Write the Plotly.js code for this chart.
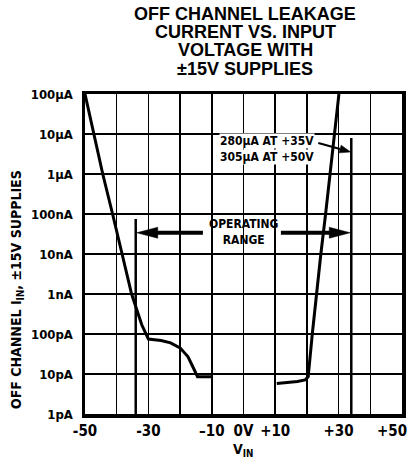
<!DOCTYPE html>
<html>
<head>
<meta charset="utf-8">
<script src="https://cdn.plot.ly/plotly-3.0.1.min.js"></script>
<style>html,body{margin:0;padding:0;background:#fff;}#chart{width:409px;height:464px;}</style>
</head>
<body>
<div id="chart"></div>
<script>
// ---- data ----
const titleLines = ["OFF CHANNEL LEAKAGE", "CURRENT VS. INPUT", "VOLTAGE WITH", "\u00B115V SUPPLIES"];

// negative-input branch (V, A)
const vLeft = [-50, -47.3, -44.4, -41.3, -38.3, -35.3, -32.1, -30.0, -26, -23, -20, -17.5, -15.5, -14.5, -10];
const iLeft = [1e-4, 1e-5, 1e-6, 1e-7, 1e-8, 1e-9, 1.7e-10, 7.5e-11, 6.9e-11, 6.0e-11, 4.5e-11, 2.7e-11, 1.26e-11, 8.5e-12, 8.5e-12];

// positive-input branch (V, A)
const vRight = [10.5, 14, 17, 19.4, 20.4, 21.7, 23.0, 24.4, 25.9, 27.3, 28.7, 30.1];
const iRight = [5.8e-12, 6.1e-12, 6.5e-12, 7.1e-12, 8.5e-12, 1e-10, 1e-9, 1e-8, 1e-7, 1e-6, 1e-5, 1e-4];

// operating range limits (V) and top of the bracket lines (A)
const rangeV = [-34, 34];
const rangeTop = [7.5e-8, 7.9e-6];
const floorI = 1e-12;
const rangeArrowI = 3.4e-8;          // level of the "operating range" arrows
const rangeArrowTailV = [-12.8, 11.8];

// pointer from the note to the +35V line
const noteArrowV = [23.6, 33.8];
const noteArrowI = [5.95e-6, 3.55e-6];

const xTickVals = [-50, -30, -10, 0, 10, 30, 50];
const xTickText = ["-50", "-30", "\u201310", "0V", "+10", "+30", "+50"];
const xGridStep = 10;
const yTickVals = [1e-12, 1e-11, 1e-10, 1e-9, 1e-8, 1e-7, 1e-6, 1e-5, 1e-4];
const yTickText = ["1pA", "10pA", "100pA", "1nA", "10nA", "100nA", "1\u00B5A", "10\u00B5A", "100\u00B5A"];

const noteLines = ["280\u00B5A AT +35V", "305\u00B5A AT +50V"];
const noteV = 7.3;
const noteI = [6.7e-6, 2.65e-6];
const rangeText = "OPERATING<br>RANGE";
const yTitle = "OFF CHANNEL I<sub>IN</sub>, \u00B115V SUPPLIES";
const xTitle = "V<sub>IN</sub>";

// ---- drawing ----
const narrow = "Liberation Sans Narrow, DejaVu Sans Condensed, Arial Narrow, sans-serif";
const wide = "Liberation Sans, Arial, Helvetica, sans-serif";
const lg = v => Math.log10(v);
const black = "#000";

// plot-area scale (pixels per volt and per decade) used to size the arrowheads
const pxPerV = 317 / 100, pxPerDec = 320 / 8;
// offset a (V, I) point by screen pixels (dx right, dy down)
const off = (v, i, dx, dy) => [v + dx / pxPerV, i * Math.pow(10, -dy / pxPerDec)];

function head(tipV, tipI, pts) {
  const all = [[0, 0]].concat(pts).concat([[0, 0]]).map(p => off(tipV, tipI, p[0], p[1]));
  return {x: all.map(p => p[0]), y: all.map(p => p[1]), mode: "lines", fill: "toself", fillcolor: black,
    line: {color: black, width: 0.5}, hoverinfo: "skip"};
}

const lHeadTip = [rangeV[0] + 1 / pxPerV, rangeArrowI];
const rHeadTip = [rangeV[1] - 1 / pxPerV, rangeArrowI];
const noteBase = off(noteArrowV[1], noteArrowI[1], -10.6, -2.98);

const traces = [
  {x: vLeft, y: iLeft, mode: "lines", line: {color: black, width: 3}, hoverinfo: "skip"},
  {x: vRight, y: iRight, mode: "lines", line: {color: black, width: 3}, hoverinfo: "skip"},
  {x: [rangeV[0], rangeV[0]], y: [rangeTop[0], floorI], mode: "lines", line: {color: black, width: 2.5}, hoverinfo: "skip"},
  {x: [rangeV[1], rangeV[1]], y: [rangeTop[1], floorI], mode: "lines", line: {color: black, width: 2.5}, hoverinfo: "skip"},
  {x: [rangeArrowTailV[0], lHeadTip[0] + 15 / pxPerV], y: [rangeArrowI, rangeArrowI], mode: "lines", line: {color: black, width: 4}, hoverinfo: "skip"},
  {x: [rangeArrowTailV[1], rHeadTip[0] - 15 / pxPerV], y: [rangeArrowI, rangeArrowI], mode: "lines", line: {color: black, width: 4}, hoverinfo: "skip"},
  head(lHeadTip[0], lHeadTip[1], [[21, -5.5], [21, 5.5]]),
  head(rHeadTip[0], rHeadTip[1], [[-21, -5.5], [-21, 5.5]]),
  {x: [noteArrowV[0], noteBase[0]], y: [noteArrowI[0], noteBase[1]], mode: "lines", line: {color: black, width: 2.2}, hoverinfo: "skip"},
  head(noteArrowV[1], noteArrowI[1], [[-11.7, 0.87], [-9.5, -6.83]])
];

const annotations = [];
titleLines.forEach((t, k) => {
  annotations.push({text: t, xref: "paper", yref: "paper", x: 0.505, y: (414 - (13.5 + k * 18.4)) / 320,
    xanchor: "center", yanchor: "middle", showarrow: false,
    font: {family: wide, size: 18, color: black, weight: "bold"}});
});
noteLines.forEach((t, k) => {
  annotations.push({text: t, xref: "x", yref: "y", x: noteV, y: lg(noteI[k]), xanchor: "center", yanchor: "middle",
    showarrow: false, bgcolor: "#fff", borderpad: 0, font: {family: narrow, size: 12, color: black, weight: "bold"}});
});
annotations.push({text: rangeText, xref: "x", yref: "y", x: 0, y: lg(rangeArrowI) + 0.02, xanchor: "center", yanchor: "middle",
  showarrow: false, font: {family: narrow, size: 12, color: black, weight: "bold"}});
// last x tick label, pulled inside the page as in the reference
annotations.push({text: xTickText[xTickText.length - 1], xref: "paper", yref: "paper", x: 1, xshift: 7, y: (414 - 431) / 320,
  xanchor: "right", yanchor: "middle", showarrow: false, font: {family: narrow, size: 15, color: black, weight: "bold"}});
// axis titles
annotations.push({text: yTitle, xref: "paper", yref: "paper", x: (17 - 85) / 317, y: (414 - 290) / 320, textangle: -90,
  xanchor: "center", yanchor: "middle", showarrow: false, font: {family: narrow, size: 14, color: black, weight: "bold"}});
annotations.push({text: xTitle, xref: "paper", yref: "paper", x: (243 - 85) / 317, y: (414 - 450) / 320,
  xanchor: "center", yanchor: "middle", showarrow: false, font: {family: narrow, size: 14, color: black, weight: "bold"}});

const shownXVals = xTickVals.slice(0, -1);
const shownXText = xTickText.slice(0, -1);

const layout = {
  width: 409, height: 464,
  margin: {l: 85, r: 7, t: 94, b: 50, pad: 0},
  paper_bgcolor: "#fff", plot_bgcolor: "#fff",
  showlegend: false,
  xaxis: {range: [-50, 50], tickmode: "array", tickvals: shownXVals, ticktext: shownXText, showgrid: false,
    minor: {tickmode: "linear", tick0: 0, dtick: xGridStep, showgrid: true, gridcolor: black, gridwidth: 1.5, ticks: ""},
    zeroline: false, showline: true, linecolor: black, linewidth: 3.5, mirror: true, ticks: "",
    tickfont: {family: narrow, size: 15, color: black, weight: "bold"}, fixedrange: true},
  yaxis: {type: "log", range: [-12, -4], tickvals: yTickVals, ticktext: yTickText, showgrid: true, gridcolor: black, gridwidth: 1.5,
    zeroline: false, showline: true, linecolor: black, linewidth: 3.5, mirror: true, ticks: "", ticklabelstandoff: 6,
    tickfont: {family: narrow, size: 13, color: black, weight: "bold"}, fixedrange: true},
  annotations: annotations
};

Plotly.newPlot("chart", traces, layout, {staticPlot: true, displayModeBar: false});
</script>
</body>
</html>
